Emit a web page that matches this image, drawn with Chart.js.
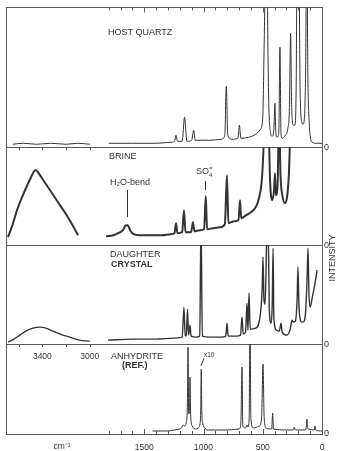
<!DOCTYPE html>
<html>
<head>
<meta charset="utf-8">
<script src="https://cdn.jsdelivr.net/npm/chart.js@4"></script>
<style>
  html, body { margin: 0; padding: 0; background: #fff; }
  #wrap { width: 338px; height: 451px; position: relative; }
</style>
</head>
<body>
<div id="wrap"><canvas id="spectra"></canvas></div>
<script>
"use strict";

// Raman spectra, [wavenumber cm-1, intensity].
// "High" = the O-H stretch window (3700-3000), "Low" = 1800-0.
// Intensity units are per panel (0 = panel baseline line).

const quartzHigh = [[3650,3],[3560,4],[3450,3],[3330,4],[3200,3],[3100,4],[3000,3]];
const quartzLow = [[1800,4],[1600,4],[1400,4],[1280,5],[1245,6],[1232,12],[1220,6],[1180,6],[1160,30],[1140,6],
  [1100,7],[1083,17],[1070,7],[950,7],[850,8],[820,12],[808,61],[795,12],[760,8],[710,9],[697,22],[685,9],
  [620,10],[560,13],[520,18],[500,30],[490,90],[480,170],[470,300],[462,170],[452,60],[435,15],[420,11],
  [405,20],[397,44],[390,15],[380,10],[365,14],[355,100],[346,14],[337,9],[310,12],[290,18],[275,40],[265,114],
  [256,40],[240,22],[230,22],[218,60],[210,200],[196,200],[185,60],[170,25],[160,23],[148,30],[138,80],
  [128,220],[120,80],[108,25],[95,8],[84,5],[40,4],[0,4]];

const brineHigh = [[3690,8],[3656,19],[3605,38],[3546,55],[3504,66],[3470,74],[3455,75],[3437,73],[3403,67],
  [3335,55],[3268,43],[3200,31],[3150,21],[3099,10]];
const brineLow = [[1823,9],[1760,10],[1720,12],[1680,15],[1655,20],[1640,20],[1620,15],[1590,11],[1540,10],
  [1450,10],[1350,10],[1280,11],[1245,12],[1232,22],[1220,12],[1180,13],[1165,35],[1152,13],[1105,13],
  [1089,23],[1077,14],[1030,15],[995,16],[981,49],[970,16],[920,17],[860,18],[820,21],[802,70],[790,22],
  [740,24],[705,25],[692,45],[682,27],[640,30],[600,33],[560,38],[530,48],[505,70],[490,110],[470,200],
  [455,150],[440,70],[420,45],[405,55],[397,72],[390,50],[375,60],[362,130],[350,70],[335,50],[312,42],
  [295,48],[280,70],[265,120],[240,140],[215,150]];

const daughterHigh = [[3690,2],[3640,5],[3590,9],[3540,13],[3480,16],[3420,17],[3370,16],[3310,13],[3250,10],
  [3170,7],[3090,4],[3000,3]];
const daughterLow = [[1806,4],[1600,5],[1400,5],[1250,6],[1180,7],[1165,37],[1155,8],[1145,9],[1135,35],
  [1126,9],[1114,19],[1105,8],[1060,7],[1032,8],[1021,125],[1010,8],[950,7],[850,7],[812,8],[802,21],[792,8],
  [720,8],[688,9],[675,27],[665,10],[645,12],[633,41],[625,14],[616,51],[606,15],[560,16],[525,26],[505,55],
  [498,87],[490,45],[480,40],[470,90],[462,140],[455,130],[445,35],[430,21],[420,40],[413,96],[406,25],
  [385,14],[360,13],[346,21],[336,12],[300,9],[270,14],[253,24],[242,22],[225,23],[210,45],[203,77],[195,40],
  [180,23],[160,22],[140,30],[126,65],[118,96],[110,50],[100,37],[80,48],[60,60],[42,74]];

const anhydriteLow = [[1430,3],[1300,3],[1250,4],[1200,5],[1185,6],[1173,9],[1160,8],[1145,12],[1136,30],
  [1131,87],[1125,20],[1118,25],[1114,57],[1108,18],[1095,8],[1070,5],[1045,6],[1030,10],[1024,22],[1019,65],
  [1014,22],[1005,10],[990,6],[960,4],[800,4],[700,5],[685,10],[675,67],[668,8],[645,6],[633,9],[625,7],
  [615,15],[608,120],[600,15],[580,6],[530,8],[510,16],[498,70],[488,16],[470,6],[425,5],[416,21],[410,5],
  [300,4],[240,4],[233,7],[225,4],[140,4],[132,8],[127,15],[122,6],[115,5],[65,4],[59,8],[54,4],[0,3]];

// panel tops in the same units (the panels have different heights)
const panelMax = [140, 98, 99, 90];

// axis ticks
const lowTicks = [100,200,300,400,500,600,700,800,900,1000,1100,1200,1300,1400,1500,1600,1700,1800];
const lowLabels = [0, 500, 1000, 1500];
const highTicks = [3000, 3200, 3400, 3600];
const highLabels = [3000, 3400];

// broken axis: the 3700-3000 window is slid next to the 1800-0 range
const GAP_SHIFT = 1040;
const XMAX = 2667;
function brk(v) { return v > 2500 ? v - GAP_SHIFT : v; }

function toPoints(high, low) {
  let pts = [];
  if (high) {
    high.forEach(p => pts.push({ x: brk(p[0]), y: p[1] }));
    pts.push({ x: 1920, y: null });
  }
  low.forEach(p => pts.push({ x: p[0], y: p[1] }));
  return pts;
}

const INK = "#333";
const FRAME = "#5a5a5a";
Chart.defaults.font.family = "'Liberation Sans', Arial, sans-serif";
Chart.defaults.color = INK;

function panelAxis(max, weight, withTop) {
  return {
    type: "linear",
    position: "right",
    stack: "panels",
    stackWeight: weight,
    min: 0,
    max: max,
    afterBuildTicks: s => { s.ticks = withTop ? [{ value: 0 }, { value: max }] : [{ value: 0 }]; },
    afterFit: s => { s.width = 16; },
    ticks: { callback: v => (v === 0 ? "0" : ""), padding: 2, font: { size: 9 }, color: INK },
    grid: { color: FRAME, drawTicks: false, lineWidth: 1 },
    border: { display: true, color: FRAME, width: 1 }
  };
}

function drawLine(ctx, x1, y1, x2, y2) {
  ctx.beginPath();
  ctx.moveTo(x1, y1);
  ctx.lineTo(x2, y2);
  ctx.stroke();
}

function drawText(ctx, str, x, y, size, bold, align) {
  ctx.font = (bold ? "bold " : "") + size + "px 'Liberation Sans', Arial, sans-serif";
  ctx.textAlign = align || "left";
  ctx.fillText(str, x, y);
}

const decorations = {
  id: "decorations",
  afterDraw(chart) {
    const ctx = chart.ctx;
    const xs = chart.scales.x;
    const yQ = chart.scales.yQuartz, yD = chart.scales.yDaughter;
    const top = chart.chartArea.top, bottom = chart.chartArea.bottom;
    ctx.save();
    ctx.strokeStyle = FRAME;
    ctx.lineWidth = 1;
    lowTicks.forEach(v => {
      const px = Math.round(xs.getPixelForValue(v)) + 0.5;
      const len = v % 500 === 0 ? 5 : 3;
      drawLine(ctx, px, top, px, top + len);
      drawLine(ctx, px, bottom, px, bottom - len);
    });
    highTicks.forEach(v => {
      const px = Math.round(xs.getPixelForValue(brk(v))) + 0.5;
      drawLine(ctx, px, yQ.bottom, px, yQ.bottom + 3);
      drawLine(ctx, px, yD.bottom, px, yD.bottom + 3);
    });

    ctx.fillStyle = INK;
    ctx.textBaseline = "middle";
    highLabels.forEach(v => drawText(ctx, String(v), xs.getPixelForValue(brk(v)), yD.bottom + 13, 8.5, false, "center"));
    drawText(ctx, "cm\u207B\u00B9", 62, 447, 8.5, false, "center");

    drawText(ctx, "HOST QUARTZ", 108, 33, 9);
    drawText(ctx, "BRINE", 109, 157, 9);
    drawText(ctx, "H\u2082O-bend", 110, 183, 9);
    drawText(ctx, "SO", 196, 172, 9);
    drawText(ctx, "4", 209, 175, 6);
    drawText(ctx, "=", 209, 168, 6);
    drawText(ctx, "DAUGHTER", 110, 255, 9);
    drawText(ctx, "CRYSTAL", 111, 265, 9, true);
    drawText(ctx, "ANHYDRITE", 111, 357, 9);
    drawText(ctx, "(REF.)", 122, 366, 9, true);
    drawText(ctx, "x10", 204, 355, 6.5);

    ctx.strokeStyle = INK;
    drawLine(ctx, 127.5, 190, 127.5, 217);
    drawLine(ctx, 205.5, 181, 205.5, 190);
    drawLine(ctx, 204, 358, 201, 366);

    ctx.translate(333, 258);
    ctx.rotate(-Math.PI / 2);
    drawText(ctx, "INTENSITY", 0, 0, 9, false, "center");
    ctx.restore();
  }
};

function series(data, axis, width) {
  return {
    data: data,
    yAxisID: axis,
    borderColor: INK,
    borderWidth: width,
    pointRadius: 0,
    cubicInterpolationMode: "monotone",
    spanGaps: false,
    fill: false
  };
}

new Chart(document.getElementById("spectra"), {
  type: "line",
  data: {
    datasets: [
      series(toPoints(quartzHigh, quartzLow), "yQuartz", 1),
      series(toPoints(brineHigh, brineLow), "yBrine", 2),
      series(toPoints(daughterHigh, daughterLow), "yDaughter", 1.4),
      series(toPoints(null, anhydriteLow), "yAnhydrite", 1)
    ]
  },
  options: {
    responsive: true,
    maintainAspectRatio: false,
    animation: false,
    events: [],
    layout: { padding: { top: 7, left: 6, right: 0, bottom: 0 } },
    plugins: { legend: { display: false }, tooltip: { enabled: false } },
    scales: {
      x: {
        type: "linear",
        reverse: true,
        min: 0,
        max: XMAX,
        afterBuildTicks: s => { s.ticks = lowLabels.concat([XMAX]).map(v => ({ value: v })); },
        afterFit: s => { s.height = 17; },
        ticks: { callback: v => (v === XMAX ? "" : String(v)), padding: 9, maxRotation: 0, autoSkip: false,
                 font: { size: 8.5 }, color: INK },
        grid: { color: c => (c.tick && c.tick.value === XMAX ? FRAME : "rgba(0,0,0,0)"), drawTicks: false },
        border: { display: true, color: FRAME }
      },
      yQuartz: panelAxis(panelMax[0], 140, true),
      yBrine: panelAxis(panelMax[1], 98, false),
      yDaughter: panelAxis(panelMax[2], 99, false),
      yAnhydrite: panelAxis(panelMax[3], 90, false)
    }
  },
  plugins: [decorations]
});
</script>
</body>
</html>
